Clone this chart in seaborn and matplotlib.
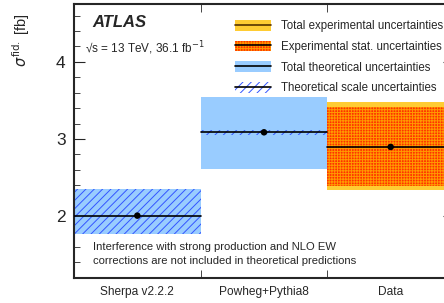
import numpy as np
import pandas as pd
import matplotlib
matplotlib.use("Agg")
import matplotlib.pyplot as plt
import seaborn as sns
from matplotlib.patches import Patch
from matplotlib.lines import Line2D

sns.set_style("ticks")
plt.rcParams["font.family"] = ["Liberation Sans", "DejaVu Sans"]
plt.rcParams["hatch.linewidth"] = 0.7

# Data
models = ["Sherpa v2.2.2", "Powheg+Pythia8", "Data"]
central = [2.005, 3.086, 2.896]
theo_lo = [1.77, 2.614]
theo_hi = [2.347, 3.54]
scale_lo = [1.77, 3.05]
scale_hi = [2.347, 3.12]
exp_tot_lo = [2.333]
exp_tot_hi = [3.484]
exp_stat_lo = [2.384]
exp_stat_hi = [3.416]

df = pd.DataFrame({"model": models, "xsec": central, "pos": np.arange(len(models))})

fig = plt.figure(figsize=(4.44, 3.03), dpi=100)
ax = fig.add_axes([74 / 444, 25.3 / 303, 380 / 444, 273.7 / 303])

light_blue = "#99ccff"
hatch_blue = "#3355ff"
yellow = "#ffcc33"
orange = "#ff9900"
red = "#ff3300"

# theory bands
for i in range(len(theo_lo)):
    ax.bar(i, theo_hi[i] - theo_lo[i], bottom=theo_lo[i], width=1.0,
           color=light_blue, linewidth=0, zorder=1)
    ax.bar(i, scale_hi[i] - scale_lo[i], bottom=scale_lo[i], width=1.0,
           facecolor="none", edgecolor=hatch_blue, hatch="////", linewidth=0, zorder=2)

# data bands
d = len(models) - 1
ax.bar(d, exp_tot_hi[0] - exp_tot_lo[0], bottom=exp_tot_lo[0], width=1.0,
       color=yellow, linewidth=0, zorder=1)
ax.bar(d, exp_stat_hi[0] - exp_stat_lo[0], bottom=exp_stat_lo[0], width=1.0,
       facecolor=red, edgecolor=orange, hatch="++++++", linewidth=0, zorder=2)

# central values
for i, c in enumerate(central):
    ax.plot([i - 0.5, i + 0.5], [c, c], color="black", lw=1.2, zorder=3)
sns.scatterplot(data=df, x="pos", y="xsec", color="black", s=22, zorder=4,
                edgecolor="none", ax=ax, legend=False)

ax.set_xlim(-0.5, 2.5)
ax.set_ylim(1.2, 4.75)

ax.set_xticks(np.arange(len(models)))
ax.set_xticklabels(models, fontsize=8.6)
ax.tick_params(axis="x", which="major", length=0, pad=6)
ax.set_xticks([0.5, 1.5], minor=True)
ax.tick_params(axis="x", which="minor", length=6, direction="in", top=True, bottom=True)

ax.set_yticks([2, 3, 4])
ax.set_yticks(np.arange(1.2, 4.75, 0.2), minor=True)
ax.tick_params(axis="y", which="major", length=8, direction="in", labelsize=12.5,
               left=True, right=True, pad=6)
ax.tick_params(axis="y", which="minor", length=4, direction="in", left=True, right=True)
for s in ax.spines.values():
    s.set_linewidth(1.5)
    s.set_visible(True)

ax.set_xlabel("")
ax.set_ylabel(r"$\sigma^{\mathrm{fid.}}$ [fb]", fontsize=10.5, loc="top")
ax.yaxis.set_label_coords(-0.11, 0.967)

ax.text(0.047, 0.958, "ATLAS", transform=ax.transAxes, fontsize=12,
        fontweight="bold", fontstyle="italic", va="top")
ax.text(0.03, 0.87, "\u221as = 13 TeV, 36.1 fb$^{-1}$", transform=ax.transAxes,
        fontsize=8.5, va="top")
ax.text(0.05, 0.129, "Interference with strong production and NLO EW\n"
        "corrections are not included in theoretical predictions",
        transform=ax.transAxes, fontsize=8.1, va="top", linespacing=1.45)

handles = [
    (Patch(facecolor=yellow, linewidth=0), Line2D([], [], color="#553300", lw=1.2)),
    (Patch(facecolor=red, edgecolor=orange, hatch="++++++", linewidth=0),
     Line2D([], [], color="black", lw=1.2)),
    (Patch(facecolor=light_blue, linewidth=0), Line2D([], [], color="black", lw=1.2)),
    (Patch(facecolor="none", edgecolor=hatch_blue, hatch="////", linewidth=0),
     Line2D([], [], color="black", lw=1.2)),
]
labels = ["Total experimental uncertainties", "Experimental stat. uncertainties",
          "Total theoretical uncertainties", "Theoretical scale uncertainties"]
ax.legend(handles, labels, loc="upper left", bbox_to_anchor=(0.4237, 0.941),
          frameon=False, fontsize=8.3, handlelength=3.1, handleheight=1.05,
          labelspacing=0.72, handletextpad=0.87, borderaxespad=0, borderpad=0)

fig.savefig("out.png", dpi=100)
